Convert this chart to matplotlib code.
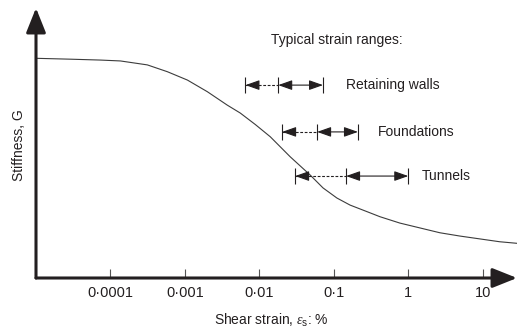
import numpy as np
import matplotlib.pyplot as plt

plt.rcParams['font.family'] = ['Liberation Sans', 'DejaVu Sans']
plt.rcParams['mathtext.fontset'] = 'custom'
plt.rcParams['mathtext.rm'] = 'Liberation Sans'
plt.rcParams['mathtext.it'] = 'Liberation Serif:italic'

# -----------------------------
# Stiffness degradation curve
# -----------------------------
strain = [1e-5, 2.91e-5, 7.34e-5, 1.36e-4, 3.13e-4, 5.81e-4, 1.08e-3, 2.0e-3,
          3.7e-3, 5.53e-3, 8.79e-3, 0.0140, 0.0259, 0.0480, 0.0716, 0.110,
          0.165, 0.279, 0.416, 0.771, 1.43, 2.65, 4.92, 9.12, 16.9, 28.6]
stiffness = [1.000, 0.996, 0.992, 0.988, 0.970, 0.939, 0.901, 0.848,
             0.787, 0.751, 0.699, 0.643, 0.552, 0.469, 0.410, 0.364,
             0.332, 0.302, 0.279, 0.250, 0.228, 0.206, 0.191, 0.178, 0.165, 0.158]

tick_values = [1e-4, 1e-3, 1e-2, 1e-1, 1, 10]
tick_labels = ['0\u00b70001', '0\u00b7001', '0\u00b701', '0\u00b71', '1', '10']

# typical strain ranges: lower limit, start of main range, upper limit
range_names = ['Retaining walls', 'Foundations', 'Tunnels']
range_lo = [0.0065, 0.0202, 0.0302]
range_mid = [0.0179, 0.0596, 0.146]
range_hi = [0.0716, 0.211, 1.0]
range_level = [0.878, 0.665, 0.464]
label_gap = [16.5, 14.4, 10.0]  # points between end bar and label

ink = '#231f20'

fig = plt.figure(figsize=(5.17, 3.33), dpi=100)
ax = fig.add_axes([36/517, 55/333, 481/517, 270/333])
ax.set_xscale('log')
ax.set_xlim(1e-5, 10**1.46)
ax.set_ylim(0, 1.229)

ax.plot(strain, stiffness, color='#3c3c3c', lw=0.8)

# axes drawn as arrows
for s in ax.spines.values():
    s.set_visible(False)
axis_arrow = dict(arrowstyle='-|>,head_length=1.5,head_width=0.6', lw=2.2, color=ink,
                  shrinkA=0, shrinkB=0, mutation_scale=10)
ax.annotate('', xy=(1, 0), xytext=(0, 0), xycoords='axes fraction', arrowprops=axis_arrow)
ax.annotate('', xy=(0, 1), xytext=(0, 0), xycoords='axes fraction', arrowprops=axis_arrow)

ax.set_xticks(tick_values)
ax.set_xticklabels(tick_labels)
ax.minorticks_off()
ax.set_yticks([])
ax.tick_params(axis='x', direction='in', length=6.5, width=0.8, color='#555555',
               pad=6, labelsize=10.5, labelcolor=ink)

# strain range markers
head = '-|>,head_length=0.85,head_width=0.3'
dbl = '<|-|>,head_length=0.85,head_width=0.3'
for name, lo, mid, hi, y, gap in zip(range_names, range_lo, range_mid, range_hi,
                                     range_level, label_gap):
    ax.vlines([lo, mid, hi], y - 0.037, y + 0.037, color=ink, lw=0.8)
    ax.plot([lo, mid], [y, y], color=ink, lw=0.8, ls=(0, (2.5, 1.5)))
    ax.annotate('', xy=(lo, y), xytext=(9, 0), textcoords='offset points',
                arrowprops=dict(arrowstyle=head, lw=0.8, color=ink,
                                shrinkA=0, shrinkB=0, mutation_scale=10))
    ax.annotate('', xy=(hi, y), xytext=(mid, y),
                arrowprops=dict(arrowstyle=dbl, lw=0.8, color=ink,
                                shrinkA=0, shrinkB=0, mutation_scale=10))
    ax.annotate(name, xy=(hi, y), xytext=(gap, 0), textcoords='offset points',
                ha='left', va='center', fontsize=10, color=ink)

fig.text(337/517, 1 - 40/333, 'Typical strain ranges:', ha='center', va='center',
         fontsize=10, color=ink)
fig.text(271/517, 1 - 320/333, r'Shear strain, $\varepsilon_{\mathrm{s}}$: %',
         ha='center', va='center', fontsize=10, color=ink)
fig.text(19/517, 1 - 145/333, 'Stiffness, G', rotation=90, ha='center', va='center',
         fontsize=10, color=ink)

fig.savefig('out.png', dpi=100)
